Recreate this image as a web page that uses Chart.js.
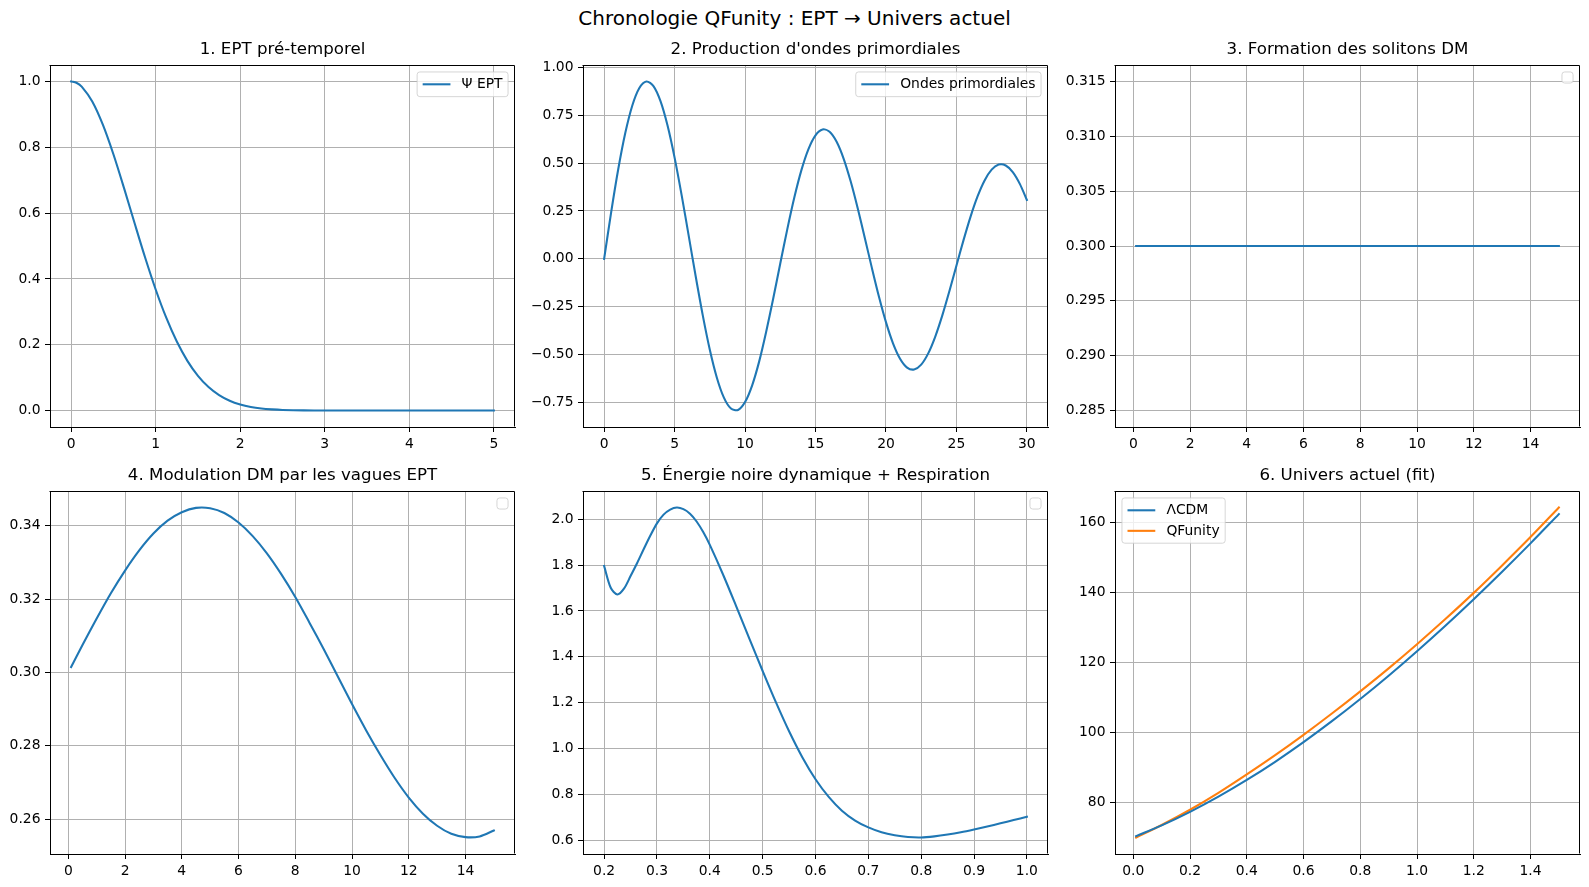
<!DOCTYPE html>
<html><head><meta charset="utf-8">
<script src="https://cdn.jsdelivr.net/npm/chart.js@4.4.1/dist/chart.umd.min.js"></script>
<style>
html,body{margin:0;padding:0;background:#fff;}
body{width:1589px;height:887px;position:relative;overflow:hidden;font-family:"DejaVu Sans";}
#sup{position:absolute;left:0;top:6px;width:1589px;text-align:center;font-size:20px;line-height:24px;color:#000;}
canvas{position:absolute;}
</style></head><body>
<div id="sup">Chronologie QFunity : EPT → Univers actuel</div>
<canvas id="c1"></canvas><canvas id="c2"></canvas><canvas id="c3"></canvas>
<canvas id="c4"></canvas><canvas id="c5"></canvas><canvas id="c6"></canvas>
<script>
// ---- Panel 1 : EPT pré-temporel
const p1X = [0,0.0625,0.125,0.25,0.375,0.5,0.625,0.75,0.875,1,1.125,1.25,1.375,1.5,1.625,1.75,1.875,2,2.125,2.25,2.375,2.5,2.75,3,3.5,4,4.5,5];
const p1Y = [1,0.9961,0.9845,0.9394,0.8688,0.7788,0.6766,0.5698,0.4650,0.3679,0.2821,0.2096,0.1510,0.1054,0.0713,0.0468,0.0297,0.0183,0.0109,0.0063,0.0036,0.0019,0.0005,0.0001,0,0,0,0];
const p1XTicks = [0,1,2,3,4,5];
const p1YTicks = [0,0.2,0.4,0.6,0.8,1.0];
// ---- Panel 2 : ondes primordiales
const p2X = [0,0.5,1,1.5,2,2.5,3,3.5,4,4.5,5,5.5,6,6.5,7,7.5,8,8.5,9,9.5,10,10.5,11,11.5,12,12.5,13,13.5,14,14.5,15,15.5,16,16.5,17,17.5,18,18.5,19,19.5,20,20.5,21,21.5,22,22.5,23,23.5,24,24.5,25,25.5,26,26.5,27,27.5,28,28.5,29,29.5,30];
const p2Y = [0,0.2443,0.4676,0.6565,0.8004,0.8915,0.9254,0.9015,0.8228,0.6953,0.5282,0.3327,0.1215,-0.0920,-0.2945,-0.4739,-0.6196,-0.7237,-0.7805,-0.7880,-0.7468,-0.6606,-0.5359,-0.3799,-0.2070,-0.0243,0.1554,0.3211,0.4630,0.5729,0.6447,0.6751,0.6632,0.6108,0.5221,0.4033,0.2628,0.1095,-0.0468,-0.1962,-0.3299,-0.4401,-0.5204,-0.5668,-0.5769,-0.5515,-0.4927,-0.4049,-0.2945,-0.1686,-0.0355,0.0965,0.2193,0.3257,0.4093,0.4657,0.4919,0.4872,0.4528,0.3913,0.3072];
const p2XTicks = [0,5,10,15,20,25,30];
const p2YTicks = [-0.75,-0.5,-0.25,0,0.25,0.5,0.75,1.0];
// ---- Panel 3 : solitons DM
const p3X = [0.1,15];
const p3Y = [0.3,0.3];
const p3XTicks = [0,2,4,6,8,10,12,14];
const p3YTicks = [0.285,0.29,0.295,0.3,0.305,0.31,0.315];
// ---- Panel 4 : modulation DM
const p4X = [0.1,0.5,1,1.5,2,2.5,3,3.5,4,4.5,5,5.5,6,6.5,7,7.5,8,8.5,9,9.5,10,10.5,11,11.5,12,12.5,13,13.5,14,14.5,15];
const p4Y = [0.3015,0.3075,0.3147,0.3216,0.3278,0.3333,0.3379,0.3414,0.3437,0.3449,0.3448,0.3435,0.3409,0.3372,0.3325,0.3269,0.3206,0.3136,0.3064,0.2989,0.2914,0.2842,0.2775,0.2713,0.2659,0.2615,0.2582,0.2560,0.2551,0.2553,0.2569];
const p4XTicks = [0,2,4,6,8,10,12,14];
const p4YTicks = [0.26,0.28,0.30,0.32,0.34];
// ---- Panel 5 : énergie noire + respiration
const p5X = [0.2,0.2125,0.225,0.2375,0.25,0.2625,0.275,0.2875,0.3,0.3125,0.325,0.3375,0.35,0.3625,0.375,0.3875,0.4,0.425,0.45,0.475,0.5,0.525,0.55,0.575,0.6,0.625,0.65,0.675,0.7,0.725,0.75,0.775,0.8,0.825,0.85,0.875,0.9,0.925,0.95,0.975,1.0];
const p5Y = [1.796,1.701,1.672,1.697,1.752,1.809,1.870,1.929,1.982,2.020,2.042,2.051,2.044,2.024,1.990,1.944,1.888,1.759,1.620,1.478,1.338,1.202,1.075,0.962,0.866,0.789,0.729,0.686,0.656,0.635,0.622,0.614,0.612,0.617,0.625,0.635,0.647,0.660,0.674,0.688,0.702];
const p5XTicks = [0.2,0.3,0.4,0.5,0.6,0.7,0.8,0.9,1.0];
const p5YTicks = [0.6,0.8,1.0,1.2,1.4,1.6,1.8,2.0];
// ---- Panel 6 : univers actuel
const p6X = [0.01,0.1,0.2,0.3,0.4,0.5,0.6,0.7,0.8,0.9,1.0,1.1,1.2,1.3,1.4,1.5];
const p6LCDM = [70.32,73.39,77.27,81.61,86.39,91.60,97.22,103.21,109.56,116.24,123.25,130.55,138.14,146.00,154.11,162.48];
const p6QF = [69.92,73.49,77.87,82.71,87.99,93.50,99.32,105.41,111.76,118.34,125.25,132.45,139.94,147.80,155.91,164.38];
const p6XTicks = [0,0.2,0.4,0.6,0.8,1.0,1.2,1.4];
const p6YTicks = [80,100,120,140,160];

const BLUE = '#1f77b4', ORANGE = '#ff7f0e';
const FONT = 'DejaVu Sans';
const FS = 13.89;
const L = 62, R = 8, T = 40, B = 28, W = 465;
const colLeft = [50, 583, 1115];
const rowTop = [65, 491];
const rowH = [362, 363];

Chart.defaults.color = '#000';
Chart.defaults.font.family = FONT;

function pts(xs, ys){ return xs.map((x,i)=>({x:x, y:ys[i]})); }
function fmt(v, d){ const s = Number(v).toFixed(d); return s.startsWith('-') ? '\u2212' + s.slice(1) : s; }

function rr(ctx, x, y, w, h, r){
  ctx.beginPath();
  ctx.moveTo(x+r, y); ctx.lineTo(x+w-r, y); ctx.arcTo(x+w, y, x+w, y+r, r);
  ctx.lineTo(x+w, y+h-r); ctx.arcTo(x+w, y+h, x+w-r, y+h, r);
  ctx.lineTo(x+r, y+h); ctx.arcTo(x, y+h, x, y+h-r, r);
  ctx.lineTo(x, y+r); ctx.arcTo(x, y, x+r, y, r); ctx.closePath();
}

const frameAndLegend = {
  id: 'frameAndLegend',
  afterDatasetsDraw(chart, args, opts){
    const ctx = chart.ctx, a = chart.chartArea;
    ctx.save();
    ctx.strokeStyle = '#000'; ctx.lineWidth = 1;
    ctx.beginPath();
    ctx.moveTo(Math.round(a.left)-0.5, Math.round(a.top)+0.5);
    ctx.lineTo(Math.round(a.right)-0.5, Math.round(a.top)+0.5);
    ctx.lineTo(Math.round(a.right)-0.5, Math.round(a.bottom)-0.5);
    ctx.stroke();
    if (opts && opts.show){
      const pad = 0.4*FS, axPad = 0.5*FS, hl = 2*FS, tp = 0.8*FS, rh = 13.6, ls = 0.5*FS;
      const items = chart.data.datasets.filter(d=>d.label).map(d=>({label:d.label, color:d.borderColor}));
      ctx.font = FS + 'px "' + FONT + '"';
      let w, h;
      if (items.length === 0){ w = 2*pad; h = 2*pad; }
      else {
        const tw = Math.max(...items.map(i=>ctx.measureText(i.label).width));
        w = 2*pad + hl + tp + tw; h = 2*pad + items.length*rh + (items.length-1)*ls;
      }
      const x = opts.loc === 'upper left' ? a.left + axPad : a.right - axPad - w;
      const y = a.top + axPad;
      rr(ctx, x, y, w, h, 0.2*FS);
      ctx.fillStyle = 'rgba(255,255,255,0.8)'; ctx.fill();
      ctx.strokeStyle = 'rgba(204,204,204,0.8)'; ctx.lineWidth = 1; ctx.stroke();
      items.forEach((it, i)=>{
        const cy = y + pad + rh/2 + i*(rh+ls);
        ctx.beginPath(); ctx.moveTo(x+pad, cy); ctx.lineTo(x+pad+hl, cy);
        ctx.strokeStyle = it.color; ctx.lineWidth = 2.08; ctx.stroke();
        ctx.fillStyle = '#000'; ctx.textBaseline = 'middle'; ctx.textAlign = 'left';
        ctx.fillText(it.label, x+pad+hl+tp, cy+0.5);
      });
    }
    ctx.restore();
  }
};

function makePanel(id, col, row, title, datasets, xr, yr, xt, yt, xd, yd, legend){
  const cv = document.getElementById(id);
  const H = rowH[row];
  cv.width = L + W + R; cv.height = T + H + B;
  cv.style.left = (colLeft[col] - L) + 'px';
  cv.style.top = (rowTop[row] - T) + 'px';
  const axisCommon = (ticksArr, dec, isX) => ({
    type: 'linear',
    bounds: 'data',
    min: isX ? xr[0] : yr[0],
    max: isX ? xr[1] : yr[1],
    afterBuildTicks: (s) => { s.ticks = ticksArr.map(v=>({value:v})); },
    afterFit: (s) => { if (isX) s.height = B; else s.width = L; },
    grid: { color: '#b0b0b0', lineWidth: 1, drawTicks: true, tickLength: 5, tickColor: '#000', tickWidth: 1 },
    border: { display: true, color: '#000', width: 1 },
    ticks: { autoSkip: false, maxRotation: 0, minRotation: 0, padding: 4.5, color: '#000',
             font: { family: FONT, size: FS }, callback: (v) => fmt(v, dec) }
  });
  return new Chart(cv, {
    type: 'line',
    data: { datasets: datasets.map(d => ({
      label: d.label, data: d.data, borderColor: d.color, backgroundColor: d.color,
      borderWidth: 2.08, pointRadius: 0, pointHoverRadius: 0, fill: false,
      tension: 0.3, borderCapStyle: 'square', borderJoinStyle: 'round'
    })) },
    options: {
      responsive: false, animation: false, devicePixelRatio: 1,
      layout: { padding: { left: 0, right: R, top: 0, bottom: 0 } },
      scales: { x: axisCommon(xt, xd, true), y: axisCommon(yt, yd, false) },
      plugins: {
        legend: { display: false }, tooltip: { enabled: false },
        title: { display: true, text: title, fullSize: false, color: '#000',
                 font: { family: FONT, size: 16.67, weight: 'normal', lineHeight: '20px' },
                 padding: { top: 14.5, bottom: 5.5 } },
        frameAndLegend: legend
      }
    },
    plugins: [frameAndLegend]
  });
}

makePanel('c1', 0, 0, '1. EPT pré-temporel',
  [{label:'Ψ EPT', data: pts(p1X,p1Y), color: BLUE}],
  [-0.25, 5.25], [-0.05, 1.05], p1XTicks, p1YTicks, 0, 1, {show:true, loc:'upper right'});
makePanel('c2', 1, 0, "2. Production d'ondes primordiales",
  [{label:'Ondes primordiales', data: pts(p2X,p2Y), color: BLUE}],
  [-1.5, 31.5], [-0.8769, 1.0114], p2XTicks, p2YTicks, 0, 2, {show:true, loc:'upper right'});
makePanel('c3', 2, 0, '3. Formation des solitons DM',
  [{data: pts(p3X,p3Y), color: BLUE}],
  [-0.645, 15.745], [0.2835, 0.3165], p3XTicks, p3YTicks, 0, 3, {show:true, loc:'upper right'});
makePanel('c4', 0, 1, '4. Modulation DM par les vagues EPT',
  [{data: pts(p4X,p4Y), color: BLUE}],
  [-0.645, 15.745], [0.2505, 0.3495], p4XTicks, p4YTicks, 0, 2, {show:true, loc:'upper right'});
makePanel('c5', 1, 1, '5. Énergie noire dynamique + Respiration',
  [{data: pts(p5X,p5Y), color: BLUE}],
  [0.16, 1.04], [0.540, 2.123], p5XTicks, p5YTicks, 1, 1, {show:true, loc:'upper right'});
makePanel('c6', 2, 1, '6. Univers actuel (fit)',
  [{label:'ΛCDM', data: pts(p6X,p6LCDM), color: BLUE},
   {label:'QFunity', data: pts(p6X,p6QF), color: ORANGE}],
  [-0.0645, 1.5745], [65.2, 169.1], p6XTicks, p6YTicks, 1, 0, {show:true, loc:'upper left'});
</script>
</body></html>
